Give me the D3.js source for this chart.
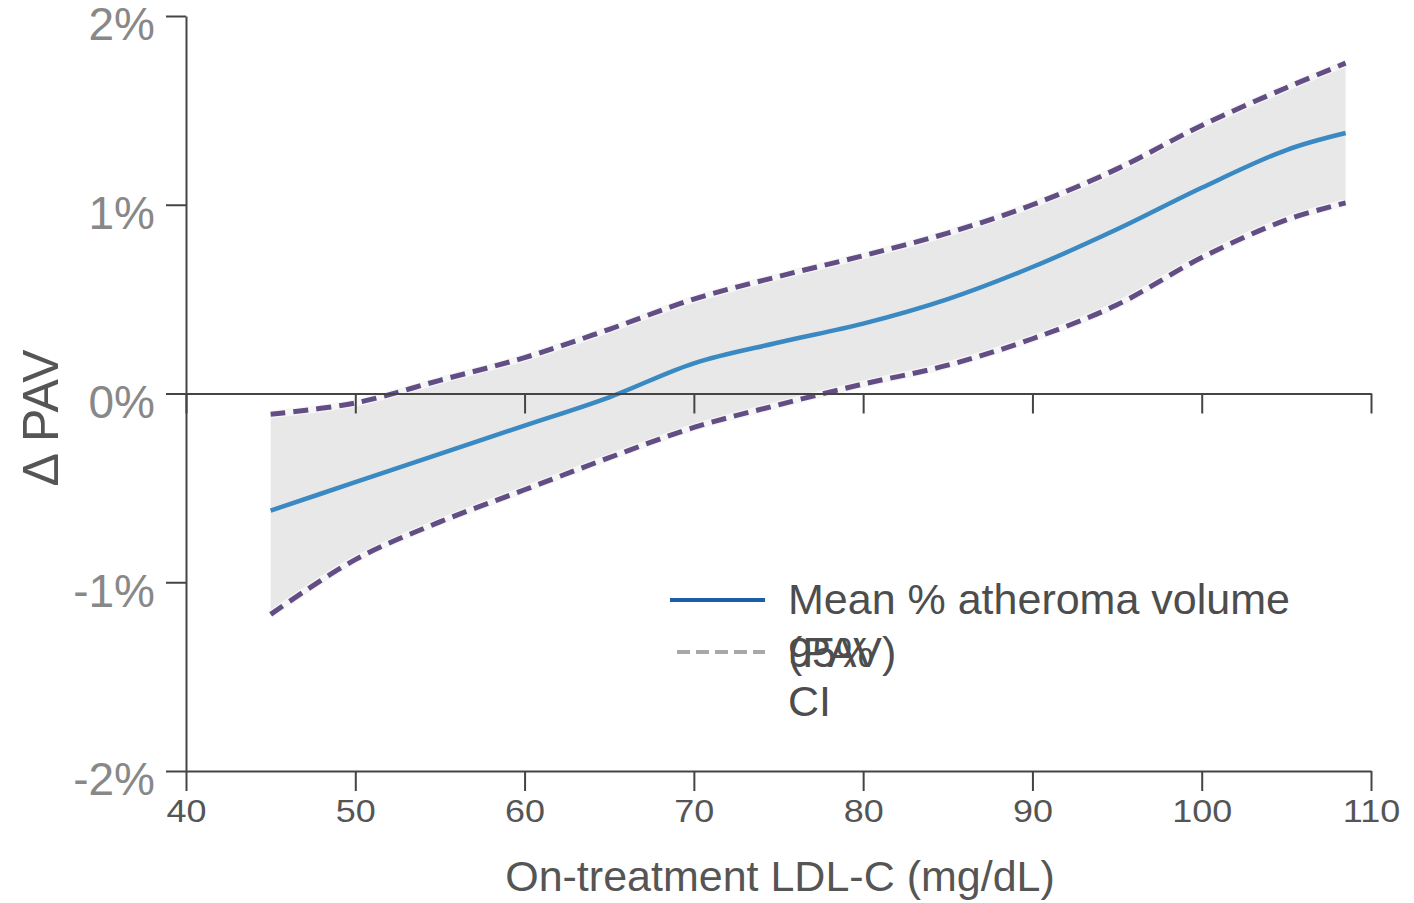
<!DOCTYPE html>
<html>
<head>
<meta charset="utf-8">
<script src="https://cdn.jsdelivr.net/npm/d3@7"></script>
<style>
    body { margin: 0; background: #fff; }
    svg { display: block; font-family: 'Liberation Sans', Arial, sans-serif; }
</style>
</head>
<body>
<div id="chart"></div>
<script>
// Data
const ldl = [45, 50, 55, 60, 65, 70, 75, 80, 85, 90, 95, 100, 105, 108.5]
const meanPav = [-0.62, -0.47, -0.32, -0.17, -0.02, 0.16, 0.27, 0.37, 0.50, 0.67, 0.87, 1.09, 1.29, 1.38]
const upperCi = [-0.11, -0.05, 0.07, 0.19, 0.34, 0.50, 0.62, 0.73, 0.85, 1.00, 1.19, 1.42, 1.62, 1.75]
const lowerCi = [-1.17, -0.88, -0.68, -0.51, -0.34, -0.18, -0.06, 0.05, 0.15, 0.29, 0.47, 0.72, 0.92, 1.01]
const xTicks = [40, 50, 60, 70, 80, 90, 100, 110]
const yTicks = [-2, -1, 0, 1, 2]
const legendLabels = ['Mean % atheroma volume', '(PAV)', '95%', 'CI']

const rows = ldl.map((x, i) => ({ x, mean: meanPav[i], hi: upperCi[i], lo: lowerCi[i] }))

// SVG Node
const width = 1414
const height = 903
const svg = d3.select('#chart').append('svg')
    .attr('width', width)
    .attr('height', height)

// Scale
const x = d3.scaleLinear().domain([40, 110]).range([186, 1371])
const y = d3.scaleLinear().domain([-2, 2]).range([771, 16])

const axisColor = '#444'
const curve = d3.curveCatmullRom.alpha(0.5)

// Band
const area = d3.area()
    .x(d => x(d.x))
    .y0(d => y(d.lo))
    .y1(d => y(d.hi))
    .curve(curve)

svg.append('path')
    .datum(rows)
    .attr('d', area)
    .attr('fill', '#e8e8e8')

// CI lines with a light halo under the dashes
const lineFor = key => d3.line()
    .x(d => x(d.x))
    .y(d => y(d[key]))
    .curve(curve)

;['hi', 'lo'].forEach(key => {
    svg.append('path')
        .datum(rows)
        .attr('d', lineFor(key))
        .attr('fill', 'none')
        .attr('stroke', '#f6f6f6')
        .attr('stroke-width', 7.5)
    svg.append('path')
        .datum(rows)
        .attr('d', lineFor(key))
        .attr('fill', 'none')
        .attr('stroke', '#624e85')
        .attr('stroke-width', 5)
        .attr('stroke-dasharray', '15,8')
})

// Mean line
svg.append('path')
    .datum(rows)
    .attr('d', lineFor('mean'))
    .attr('fill', 'none')
    .attr('stroke', '#3a89c2')
    .attr('stroke-width', 4.5)

// Axes
const styleAxis = g => {
    g.selectAll('path, line').attr('stroke', axisColor).attr('stroke-width', 2)
}

svg.append('g')
    .attr('transform', `translate(0, ${y(0)})`)
    .call(d3.axisBottom(x).tickValues(xTicks).tickSize(20).tickSizeOuter(0).tickFormat(''))
    .call(styleAxis)

svg.append('g')
    .attr('transform', `translate(0, ${y(-2)})`)
    .call(d3.axisBottom(x).tickValues(xTicks).tickSize(20).tickSizeOuter(0).tickPadding(9))
    .call(styleAxis)
    .call(g => g.selectAll('text')
        .attr('font-size', 31)
        .attr('transform', 'scale(1.16,1)')
        .attr('fill', '#555'))

svg.append('g')
    .attr('transform', `translate(${x(40)}, 0)`)
    .call(d3.axisLeft(y).tickValues(yTicks).tickSize(20).tickSizeOuter(0).tickPadding(11)
        .tickFormat(d => `${d}%`))
    .call(styleAxis)
    .call(g => g.selectAll('text')
        .attr('font-size', 46)
        .attr('dy', '0.52em')
        .attr('fill', '#888'))

// Titles
svg.append('text')
    .attr('x', 780)
    .attr('y', 891)
    .attr('text-anchor', 'middle')
    .attr('font-size', 43)
    .attr('fill', '#555')
    .text('On-treatment LDL-C (mg/dL)')

svg.append('text')
    .attr('transform', 'translate(58, 418) rotate(-90)')
    .attr('text-anchor', 'middle')
    .attr('font-size', 50)
    .attr('fill', '#555')
    .text('\u0394 PAV')

// Legend
const legend = svg.append('g')

legend.append('line')
    .attr('x1', 670).attr('x2', 765)
    .attr('y1', 600).attr('y2', 600)
    .attr('stroke', '#1a5ea8')
    .attr('stroke-width', 4)

legend.append('line')
    .attr('x1', 677).attr('x2', 765)
    .attr('y1', 652).attr('y2', 652)
    .attr('stroke', '#a8a8a8')
    .attr('stroke-width', 4)
    .attr('stroke-dasharray', '13,6')

const legendBaselines = [614, 667, 667, 716]
legend.selectAll('text.label')
    .data(legendLabels)
    .enter()
    .append('text')
    .attr('class', 'label')
    .attr('x', 788)
    .attr('y', (d, i) => legendBaselines[i])
    .attr('font-size', 43)
    .attr('fill', '#4d4d4d')
    .text(d => d)
</script>
</body>
</html>
